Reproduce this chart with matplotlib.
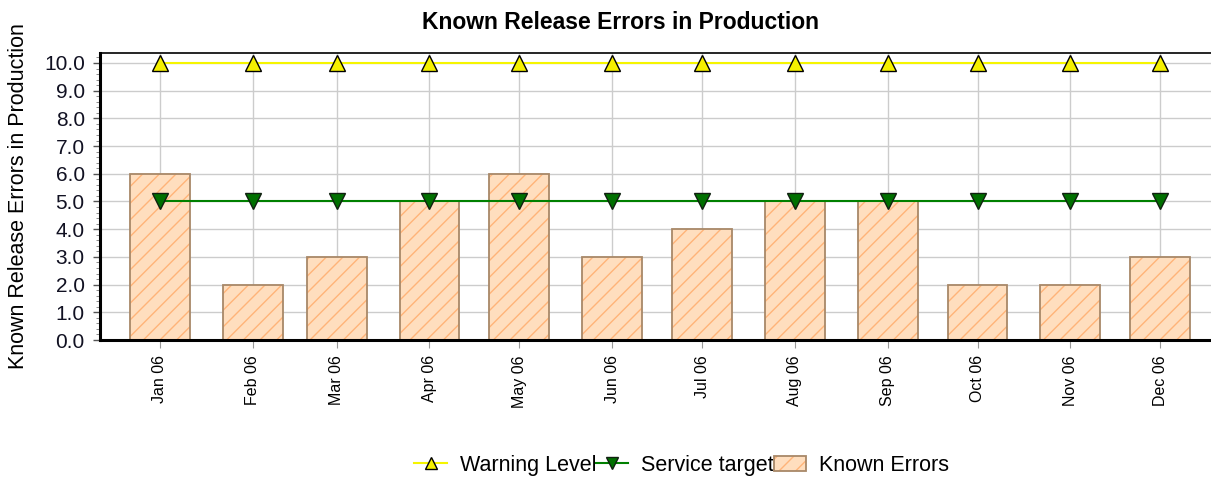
import datetime as dt
import matplotlib
matplotlib.use("Agg")
import matplotlib.pyplot as plt
from matplotlib.ticker import MultipleLocator, AutoMinorLocator, FormatStrFormatter
from matplotlib.legend_handler import HandlerTuple

# data
months = [dt.date(2006, m, 1) for m in range(1, 13)]
month_labels = ["Jan 06", "Feb 06", "Mar 06", "Apr 06", "May 06", "Jun 06",
                "Jul 06", "Aug 06", "Sep 06", "Oct 06", "Nov 06", "Dec 06"]
known_errors = [6, 2, 3, 5, 6, 3, 4, 5, 5, 2, 2, 3]
warning_level = [10] * 12
service_target = [5] * 12

plt.rcParams['font.family'] = ['Liberation Sans', 'DejaVu Sans']
plt.rcParams['hatch.linewidth'] = 1.0

fig = plt.figure(figsize=(12.11, 4.78), dpi=100)
ax = fig.add_axes([0.0826, 0.2887, 0.92, 0.6004])

# bars: hatch drawn in orange, outline drawn separately in brown
bars_fill = ax.bar(months, known_errors, width=20, color='#FFDEBE',
                   edgecolor='#FFB478', linewidth=0, hatch='//', zorder=2)
bars_edge = ax.bar(months, known_errors, width=20, facecolor='none',
                   edgecolor='#A88868', linewidth=1.3, zorder=2)

warn, = ax.plot(months, warning_level, color='#F5F500', lw=1.5, marker='^',
                ms=11, mfc='#F5F000', mec='black', mew=1, zorder=3,
                clip_on=False)
serv, = ax.plot(months, service_target, color='#008000', lw=1.5, marker='v',
                ms=11, mfc='#007000', mec='#102010', mew=1, zorder=3)

ax.set_xlim(dt.date(2005, 12, 12), dt.date(2006, 12, 19))
ax.set_ylim(0, 10.36)
ax.set_xticks(months)
ax.set_xticklabels(month_labels, rotation=90, fontsize=11.5)
ax.yaxis.set_major_locator(MultipleLocator(1))
ax.yaxis.set_minor_locator(AutoMinorLocator(5))
ax.yaxis.set_major_formatter(FormatStrFormatter('%.1f'))
ax.tick_params(axis='y', labelsize=15, length=5, width=1, color='#555555',
               labelcolor='#111122', pad=6)
ax.tick_params(axis='y', which='minor', length=3, color='#777777')
ax.tick_params(axis='x', length=6, color='#999999', pad=5)

ax.grid(True, color='#CCCCCC', lw=1, zorder=0)
ax.set_axisbelow(True)

ax.spines['left'].set_linewidth(2.2)
ax.spines['bottom'].set_linewidth(2.2)
ax.spines['top'].set_linewidth(1.2)
ax.spines['right'].set_visible(False)

ax.set_ylabel('Known Release Errors in Production', fontsize=15.5)
ax.yaxis.set_label_coords(-0.064, 0.5)
fig.suptitle('Known Release Errors in Production', fontsize=16.5,
             fontweight='bold', x=0.512, y=0.978)

fig.legend([warn, serv, (bars_fill, bars_edge)],
           ['Warning Level', 'Service target', 'Known Errors'],
           handler_map={tuple: HandlerTuple(ndivide=1)},
           loc='center', bbox_to_anchor=(0.563, 0.027), ncol=3, frameon=False,
           fontsize=15.5, handlelength=1.5, handletextpad=0.6,
           columnspacing=0.0, markerscale=0.75)

fig.savefig('out.png', dpi=100)
